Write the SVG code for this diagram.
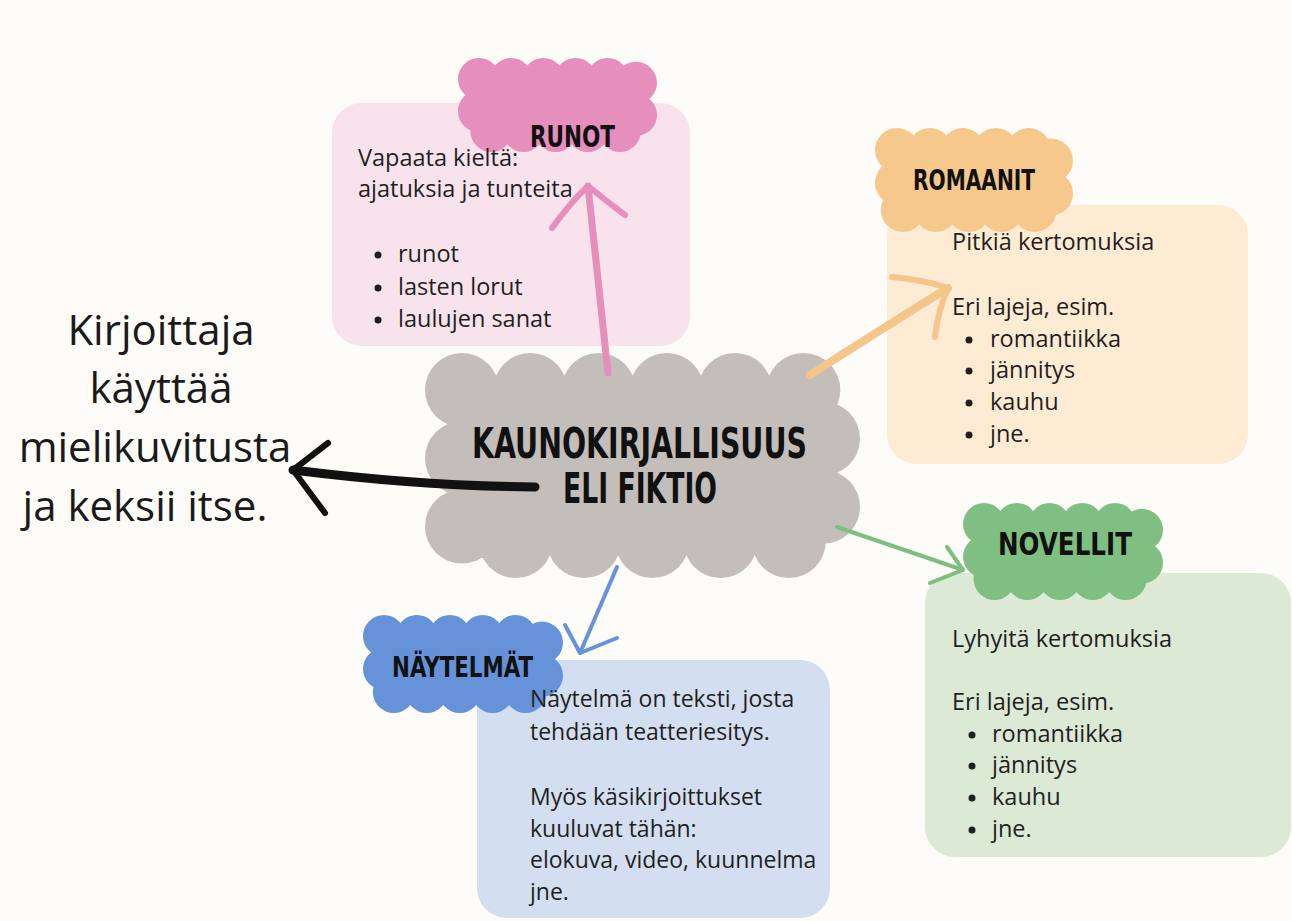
<svg xmlns="http://www.w3.org/2000/svg" width="1292" height="921" viewBox="0 0 1292 921">
  <style>
    .body { font-family: "Open Sans", "Noto Sans", sans-serif; font-size: 23.5px; fill: #1f1f1f; }
    .blue { font-size: 23px; }
    .bul { fill: #1f1f1f; }
    .big { font-family: "Open Sans", "Noto Sans", sans-serif; font-size: 42px; fill: #1a1a1a; text-anchor: middle; }
    .hd { font-family: "Liberation Sans Narrow", "DejaVu Sans Condensed", "Roboto Condensed", "Liberation Sans", sans-serif; font-weight: 700; fill: #111111; }
    .cloud { stroke-dasharray: 0 1; stroke-linecap: round; }
    .arr { fill: none; stroke-linecap: round; stroke-linejoin: round; }
  </style>
  <rect width="1292" height="921" fill="#fdfcf8"/>

  <g id="runot">
    <rect x="332" y="103" width="358" height="243" rx="30" fill="#f8e2ec"/>
    <path class="cloud" d="M479 79 H636 V131 H479 Z" pathLength="13" fill="#e68fbc" stroke="#e68fbc" stroke-width="42"/>
    <text class="hd" x="530" y="147" font-size="31" textLength="85" lengthAdjust="spacingAndGlyphs">RUNOT</text>
    <text class="body" x="358" y="166">Vapaata kieltä:</text>
    <text class="body" x="358" y="197">ajatuksia ja tunteita</text>
    <circle class="bul" cx="378" cy="255" r="3.5"/><text class="body" x="398" y="262">runot</text>
    <circle class="bul" cx="378" cy="288" r="3.5"/><text class="body" x="398" y="295">lasten lorut</text>
    <circle class="bul" cx="378" cy="320" r="3.5"/><text class="body" x="398" y="327">laulujen sanat</text>
  </g>

  <g id="romaanit">
    <rect x="887" y="205" width="361" height="259" rx="30" fill="#fdebd3"/>
    <path class="cloud" d="M897 150 H1051 V210 H897 Z" pathLength="13" fill="#f7c88c" stroke="#f7c88c" stroke-width="44"/>
    <text class="hd" x="913" y="190" font-size="29" textLength="122" lengthAdjust="spacingAndGlyphs">ROMAANIT</text>
    <text class="body" x="952" y="250">Pitkiä kertomuksia</text>
    <text class="body" x="952" y="315">Eri lajeja, esim.</text>
    <circle class="bul" cx="969" cy="340" r="3.5"/><text class="body" x="990" y="347">romantiikka</text>
    <circle class="bul" cx="969" cy="371" r="3.5"/><text class="body" x="990" y="378">jännitys</text>
    <circle class="bul" cx="969" cy="403" r="3.5"/><text class="body" x="990" y="410">kauhu</text>
    <circle class="bul" cx="969" cy="435" r="3.5"/><text class="body" x="990" y="442">jne.</text>
  </g>

  <g id="novellit">
    <rect x="925" y="573" width="366" height="284" rx="30" fill="#dbe9d5"/>
    <path class="cloud" d="M984 524 H1142 V579 H984 Z" pathLength="13" fill="#80bf82" stroke="#80bf82" stroke-width="42"/>
    <text class="hd" x="998" y="555" font-size="32" textLength="134" lengthAdjust="spacingAndGlyphs">NOVELLIT</text>
    <text class="body" x="952" y="647">Lyhyitä kertomuksia</text>
    <text class="body" x="952" y="710">Eri lajeja, esim.</text>
    <circle class="bul" cx="972" cy="735" r="3.5"/><text class="body" x="992" y="742">romantiikka</text>
    <circle class="bul" cx="972" cy="766" r="3.5"/><text class="body" x="992" y="773">jännitys</text>
    <circle class="bul" cx="972" cy="798" r="3.5"/><text class="body" x="992" y="805">kauhu</text>
    <circle class="bul" cx="972" cy="830" r="3.5"/><text class="body" x="992" y="837">jne.</text>
  </g>

  <g id="naytelmat">
    <rect x="477" y="660" width="353" height="258" rx="30" fill="#d3dff0"/>
    <path class="cloud" d="M384 636 H542 V692 H384 Z" pathLength="13" fill="#6592d9" stroke="#6592d9" stroke-width="42"/>
    <text class="hd" x="392" y="677" font-size="28" textLength="141" lengthAdjust="spacingAndGlyphs">NÄYTELMÄT</text>
    <text class="body blue" x="530" y="707">Näytelmä on teksti, josta</text>
    <text class="body blue" x="530" y="740">tehdään teatteriesitys.</text>
    <text class="body blue" x="530" y="805">Myös käsikirjoittukset</text>
    <text class="body blue" x="530" y="837">kuuluvat tähän:</text>
    <text class="body blue" x="530" y="868">elokuva, video, kuunnelma</text>
    <text class="body blue" x="530" y="900">jne.</text>
  </g>

  <g id="kaunokirjallisuus">
    <path class="cloud" d="M462 390 H823 V541 H462 Z" pathLength="15" fill="#c3beb9" stroke="#c3beb9" stroke-width="74"/>
    <text class="hd" x="472" y="458" font-size="43" textLength="335" lengthAdjust="spacingAndGlyphs">KAUNOKIRJALLISUUS</text>
    <text class="hd" x="563" y="503" font-size="42" textLength="154" lengthAdjust="spacingAndGlyphs">ELI FIKTIO</text>
  </g>

  <g id="kirjoittaja">
    <text class="big" x="161" y="345">Kirjoittaja</text>
    <text class="big" x="161" y="403">käyttää</text>
    <text class="big" x="155" y="462">mielikuvitusta</text>
    <text class="big" x="145" y="521">ja keksii itse.</text>
  </g>

  <g id="connectors">
    <path class="arr" d="M608 373 Q598 280 588 186" stroke="#e58fba" stroke-width="7"/>
    <path class="arr" d="M552 228 Q570 203 588 186 Q605 200 625 215" stroke="#e58fba" stroke-width="6"/>
    <path class="arr" d="M810 375 Q880 330 948 288" stroke="#f6c589" stroke-width="8"/>
    <path class="arr" d="M892 277 Q925 280 948 288 Q938 310 935 337" stroke="#f6c589" stroke-width="6"/>
    <path class="arr" d="M837 527 L963 570" stroke="#7dbf80" stroke-width="4"/>
    <path class="arr" d="M947 547 L963 570 L930 583" stroke="#7dbf80" stroke-width="4"/>
    <path class="arr" d="M617 567 L580 653" stroke="#6592d8" stroke-width="4"/>
    <path class="arr" d="M565 625 L580 653 L617 638" stroke="#6592d8" stroke-width="4"/>
    <path class="arr" d="M535 487 Q420 486 293 470" stroke="#111111" stroke-width="9"/>
    <path class="arr" d="M328 443 L293 470 L325 513" stroke="#111111" stroke-width="6"/>
  </g>
</svg>
